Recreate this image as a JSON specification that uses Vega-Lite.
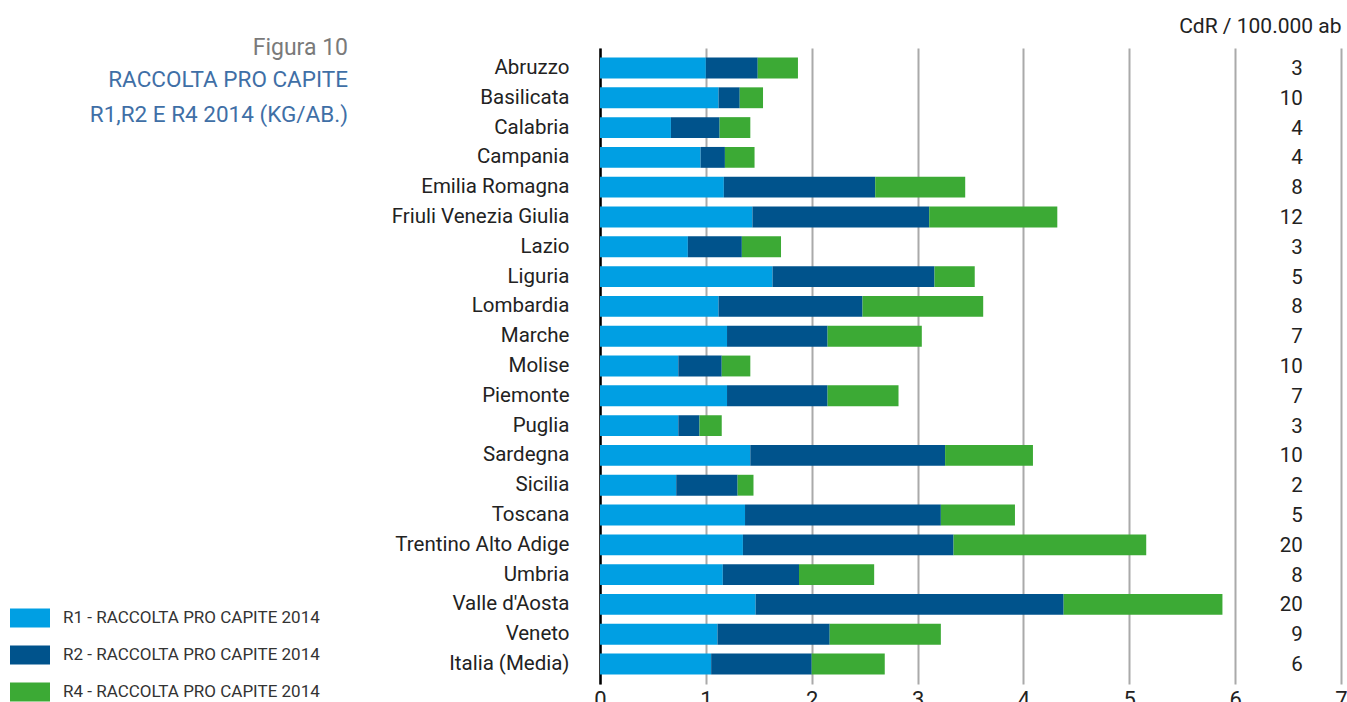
{
  "$schema": "https://vega.github.io/schema/vega-lite/v6.json",
  "autosize": "none",
  "width": 741,
  "height": 636,
  "padding": {"left": 600, "top": 48, "right": 6, "bottom": 18},
  "background": "white",
  "config": {
    "view": {"stroke": null},
    "font": "Roboto",
    "text": {"font": "Roboto"},
    "axis": {"labelFont": "Roboto", "titleFont": "Roboto"},
    "legend": {"labelFont": "Roboto"}
  },
  "title": {
    "text": "Figura 10",
    "subtitle": ["RACCOLTA PRO CAPITE", "R1,R2 E R4 2014 (KG/AB.)"],
    "anchor": "start",
    "align": "right",
    "frame": "group",
    "dx": -252,
    "dy": 115,
    "font": "Roboto",
    "fontSize": 23,
    "fontWeight": "normal",
    "color": "#7a7a7a",
    "subtitleFont": "Roboto",
    "subtitleFontSize": 22.5,
    "subtitleColor": "#3f6fa6",
    "subtitleLineHeight": 35,
    "subtitlePadding": 9
  },
  "datasets": {
    "bars": [
      {"regione": "Abruzzo", "serie": "R1 - RACCOLTA PRO CAPITE 2014", "ord": 1, "kg": 1.00},
      {"regione": "Abruzzo", "serie": "R2 - RACCOLTA PRO CAPITE 2014", "ord": 2, "kg": 0.49},
      {"regione": "Abruzzo", "serie": "R4 - RACCOLTA PRO CAPITE 2014", "ord": 3, "kg": 0.38},
      {"regione": "Basilicata", "serie": "R1 - RACCOLTA PRO CAPITE 2014", "ord": 1, "kg": 1.12},
      {"regione": "Basilicata", "serie": "R2 - RACCOLTA PRO CAPITE 2014", "ord": 2, "kg": 0.20},
      {"regione": "Basilicata", "serie": "R4 - RACCOLTA PRO CAPITE 2014", "ord": 3, "kg": 0.22},
      {"regione": "Calabria", "serie": "R1 - RACCOLTA PRO CAPITE 2014", "ord": 1, "kg": 0.67},
      {"regione": "Calabria", "serie": "R2 - RACCOLTA PRO CAPITE 2014", "ord": 2, "kg": 0.46},
      {"regione": "Calabria", "serie": "R4 - RACCOLTA PRO CAPITE 2014", "ord": 3, "kg": 0.29},
      {"regione": "Campania", "serie": "R1 - RACCOLTA PRO CAPITE 2014", "ord": 1, "kg": 0.95},
      {"regione": "Campania", "serie": "R2 - RACCOLTA PRO CAPITE 2014", "ord": 2, "kg": 0.23},
      {"regione": "Campania", "serie": "R4 - RACCOLTA PRO CAPITE 2014", "ord": 3, "kg": 0.28},
      {"regione": "Emilia Romagna", "serie": "R1 - RACCOLTA PRO CAPITE 2014", "ord": 1, "kg": 1.17},
      {"regione": "Emilia Romagna", "serie": "R2 - RACCOLTA PRO CAPITE 2014", "ord": 2, "kg": 1.43},
      {"regione": "Emilia Romagna", "serie": "R4 - RACCOLTA PRO CAPITE 2014", "ord": 3, "kg": 0.85},
      {"regione": "Friuli Venezia Giulia", "serie": "R1 - RACCOLTA PRO CAPITE 2014", "ord": 1, "kg": 1.44},
      {"regione": "Friuli Venezia Giulia", "serie": "R2 - RACCOLTA PRO CAPITE 2014", "ord": 2, "kg": 1.67},
      {"regione": "Friuli Venezia Giulia", "serie": "R4 - RACCOLTA PRO CAPITE 2014", "ord": 3, "kg": 1.21},
      {"regione": "Lazio", "serie": "R1 - RACCOLTA PRO CAPITE 2014", "ord": 1, "kg": 0.83},
      {"regione": "Lazio", "serie": "R2 - RACCOLTA PRO CAPITE 2014", "ord": 2, "kg": 0.51},
      {"regione": "Lazio", "serie": "R4 - RACCOLTA PRO CAPITE 2014", "ord": 3, "kg": 0.37},
      {"regione": "Liguria", "serie": "R1 - RACCOLTA PRO CAPITE 2014", "ord": 1, "kg": 1.63},
      {"regione": "Liguria", "serie": "R2 - RACCOLTA PRO CAPITE 2014", "ord": 2, "kg": 1.53},
      {"regione": "Liguria", "serie": "R4 - RACCOLTA PRO CAPITE 2014", "ord": 3, "kg": 0.38},
      {"regione": "Lombardia", "serie": "R1 - RACCOLTA PRO CAPITE 2014", "ord": 1, "kg": 1.12},
      {"regione": "Lombardia", "serie": "R2 - RACCOLTA PRO CAPITE 2014", "ord": 2, "kg": 1.36},
      {"regione": "Lombardia", "serie": "R4 - RACCOLTA PRO CAPITE 2014", "ord": 3, "kg": 1.14},
      {"regione": "Marche", "serie": "R1 - RACCOLTA PRO CAPITE 2014", "ord": 1, "kg": 1.20},
      {"regione": "Marche", "serie": "R2 - RACCOLTA PRO CAPITE 2014", "ord": 2, "kg": 0.95},
      {"regione": "Marche", "serie": "R4 - RACCOLTA PRO CAPITE 2014", "ord": 3, "kg": 0.89},
      {"regione": "Molise", "serie": "R1 - RACCOLTA PRO CAPITE 2014", "ord": 1, "kg": 0.74},
      {"regione": "Molise", "serie": "R2 - RACCOLTA PRO CAPITE 2014", "ord": 2, "kg": 0.41},
      {"regione": "Molise", "serie": "R4 - RACCOLTA PRO CAPITE 2014", "ord": 3, "kg": 0.27},
      {"regione": "Piemonte", "serie": "R1 - RACCOLTA PRO CAPITE 2014", "ord": 1, "kg": 1.20},
      {"regione": "Piemonte", "serie": "R2 - RACCOLTA PRO CAPITE 2014", "ord": 2, "kg": 0.95},
      {"regione": "Piemonte", "serie": "R4 - RACCOLTA PRO CAPITE 2014", "ord": 3, "kg": 0.67},
      {"regione": "Puglia", "serie": "R1 - RACCOLTA PRO CAPITE 2014", "ord": 1, "kg": 0.74},
      {"regione": "Puglia", "serie": "R2 - RACCOLTA PRO CAPITE 2014", "ord": 2, "kg": 0.20},
      {"regione": "Puglia", "serie": "R4 - RACCOLTA PRO CAPITE 2014", "ord": 3, "kg": 0.21},
      {"regione": "Sardegna", "serie": "R1 - RACCOLTA PRO CAPITE 2014", "ord": 1, "kg": 1.42},
      {"regione": "Sardegna", "serie": "R2 - RACCOLTA PRO CAPITE 2014", "ord": 2, "kg": 1.84},
      {"regione": "Sardegna", "serie": "R4 - RACCOLTA PRO CAPITE 2014", "ord": 3, "kg": 0.83},
      {"regione": "Sicilia", "serie": "R1 - RACCOLTA PRO CAPITE 2014", "ord": 1, "kg": 0.72},
      {"regione": "Sicilia", "serie": "R2 - RACCOLTA PRO CAPITE 2014", "ord": 2, "kg": 0.58},
      {"regione": "Sicilia", "serie": "R4 - RACCOLTA PRO CAPITE 2014", "ord": 3, "kg": 0.15},
      {"regione": "Toscana", "serie": "R1 - RACCOLTA PRO CAPITE 2014", "ord": 1, "kg": 1.37},
      {"regione": "Toscana", "serie": "R2 - RACCOLTA PRO CAPITE 2014", "ord": 2, "kg": 1.85},
      {"regione": "Toscana", "serie": "R4 - RACCOLTA PRO CAPITE 2014", "ord": 3, "kg": 0.70},
      {"regione": "Trentino Alto Adige", "serie": "R1 - RACCOLTA PRO CAPITE 2014", "ord": 1, "kg": 1.35},
      {"regione": "Trentino Alto Adige", "serie": "R2 - RACCOLTA PRO CAPITE 2014", "ord": 2, "kg": 1.99},
      {"regione": "Trentino Alto Adige", "serie": "R4 - RACCOLTA PRO CAPITE 2014", "ord": 3, "kg": 1.82},
      {"regione": "Umbria", "serie": "R1 - RACCOLTA PRO CAPITE 2014", "ord": 1, "kg": 1.16},
      {"regione": "Umbria", "serie": "R2 - RACCOLTA PRO CAPITE 2014", "ord": 2, "kg": 0.72},
      {"regione": "Umbria", "serie": "R4 - RACCOLTA PRO CAPITE 2014", "ord": 3, "kg": 0.71},
      {"regione": "Valle d'Aosta", "serie": "R1 - RACCOLTA PRO CAPITE 2014", "ord": 1, "kg": 1.47},
      {"regione": "Valle d'Aosta", "serie": "R2 - RACCOLTA PRO CAPITE 2014", "ord": 2, "kg": 2.91},
      {"regione": "Valle d'Aosta", "serie": "R4 - RACCOLTA PRO CAPITE 2014", "ord": 3, "kg": 1.50},
      {"regione": "Veneto", "serie": "R1 - RACCOLTA PRO CAPITE 2014", "ord": 1, "kg": 1.11},
      {"regione": "Veneto", "serie": "R2 - RACCOLTA PRO CAPITE 2014", "ord": 2, "kg": 1.06},
      {"regione": "Veneto", "serie": "R4 - RACCOLTA PRO CAPITE 2014", "ord": 3, "kg": 1.05},
      {"regione": "Italia (Media)", "serie": "R1 - RACCOLTA PRO CAPITE 2014", "ord": 1, "kg": 1.05},
      {"regione": "Italia (Media)", "serie": "R2 - RACCOLTA PRO CAPITE 2014", "ord": 2, "kg": 0.95},
      {"regione": "Italia (Media)", "serie": "R4 - RACCOLTA PRO CAPITE 2014", "ord": 3, "kg": 0.69}
    ],
    "cdr": [
      {"regione": "Abruzzo", "cdr": 3},
      {"regione": "Basilicata", "cdr": 10},
      {"regione": "Calabria", "cdr": 4},
      {"regione": "Campania", "cdr": 4},
      {"regione": "Emilia Romagna", "cdr": 8},
      {"regione": "Friuli Venezia Giulia", "cdr": 12},
      {"regione": "Lazio", "cdr": 3},
      {"regione": "Liguria", "cdr": 5},
      {"regione": "Lombardia", "cdr": 8},
      {"regione": "Marche", "cdr": 7},
      {"regione": "Molise", "cdr": 10},
      {"regione": "Piemonte", "cdr": 7},
      {"regione": "Puglia", "cdr": 3},
      {"regione": "Sardegna", "cdr": 10},
      {"regione": "Sicilia", "cdr": 2},
      {"regione": "Toscana", "cdr": 5},
      {"regione": "Trentino Alto Adige", "cdr": 20},
      {"regione": "Umbria", "cdr": 8},
      {"regione": "Valle d'Aosta", "cdr": 20},
      {"regione": "Veneto", "cdr": 9},
      {"regione": "Italia (Media)", "cdr": 6}
    ]
  },
  "layer": [
    {
      "data": {"name": "bars"},
      "mark": {"type": "bar"},
      "encoding": {
        "y": {
          "field": "regione",
          "type": "nominal",
          "sort": ["Abruzzo","Basilicata","Calabria","Campania","Emilia Romagna","Friuli Venezia Giulia","Lazio","Liguria","Lombardia","Marche","Molise","Piemonte","Puglia","Sardegna","Sicilia","Toscana","Trentino Alto Adige","Umbria","Valle d'Aosta","Veneto","Italia (Media)"],
          "scale": {"paddingInner": 0.3, "paddingOuter": 0.32},
          "axis": {
            "title": null,
            "domain": true,
            "domainColor": "#000000",
            "domainWidth": 2.5,
            "ticks": false,
            "grid": false,
            "labelPadding": 31,
            "labelFontSize": 20.5,
            "labelLimit": 400,
            "labelColor": "#222222"
          }
        },
        "x": {
          "field": "kg",
          "type": "quantitative",
          "stack": "zero",
          "scale": {"domain": [0, 7], "nice": false},
          "axis": {
            "orient": "bottom",
            "title": null,
            "values": [0, 1, 2, 3, 4, 5, 6, 7],
            "grid": true,
            "gridColor": "#aaaaaa",
            "gridWidth": 2,
            "domain": false,
            "ticks": false,
            "labelFontSize": 22,
            "labelPadding": 5,
            "labelColor": "#222222",
            "labelFlush": false
          }
        },
        "color": {
          "field": "serie",
          "type": "nominal",
          "scale": {
            "domain": ["R1 - RACCOLTA PRO CAPITE 2014", "R2 - RACCOLTA PRO CAPITE 2014", "R4 - RACCOLTA PRO CAPITE 2014"],
            "range": ["#009fe3", "#00538c", "#3caa35"]
          },
          "legend": {
            "title": null,
            "orient": "none",
            "legendX": -590,
            "legendY": 550,
            "direction": "vertical",
            "symbolType": "M-1,-0.475H1V0.475H-1Z",
            "symbolSize": 1600,
            "symbolStrokeWidth": 0,
            "labelFontSize": 17,
            "labelLimit": 400,
            "labelColor": "#333333",
            "labelOffset": 13,
            "rowPadding": 7
          }
        },
        "order": {"field": "ord", "type": "quantitative"}
      }
    },
    {
      "data": {"name": "cdr"},
      "mark": {"type": "text", "align": "right", "baseline": "middle", "fontSize": 20.5, "color": "#222222", "dy": 1},
      "encoding": {
        "y": {
          "field": "regione",
          "type": "nominal",
          "sort": ["Abruzzo","Basilicata","Calabria","Campania","Emilia Romagna","Friuli Venezia Giulia","Lazio","Liguria","Lombardia","Marche","Molise","Piemonte","Puglia","Sardegna","Sicilia","Toscana","Trentino Alto Adige","Umbria","Valle d'Aosta","Veneto","Italia (Media)"]
        },
        "x": {
          "datum": 6.64,
          "type": "quantitative",
          "axis": {
            "orient": "top",
            "title": "CdR / 100.000 ab",
            "titleAnchor": "end",
            "titleFontSize": 21,
            "titleFontWeight": "normal",
            "titleColor": "#222222",
            "titlePadding": 12,
            "labels": false,
            "ticks": false,
            "domain": false,
            "grid": false
          }
        },
        "text": {"field": "cdr", "type": "quantitative"},
        "fontWeight": {"condition": {"test": "datum.regione === 'Italia (Media)'", "value": "bold"}, "value": "normal"}
      }
    }
  ],
  "resolve": {"axis": {"x": "independent"}}
}
